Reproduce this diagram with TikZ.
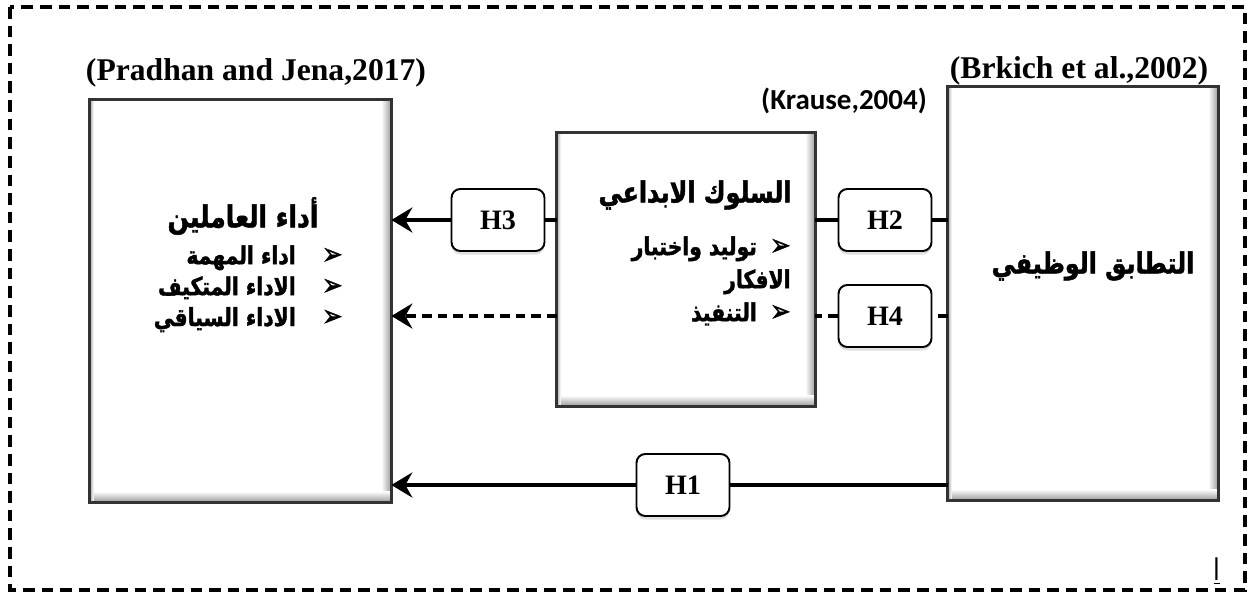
\documentclass[tikz,border=0pt]{standalone}
\usepackage{fontspec}
\setmainfont{Liberation Serif}
\newfontfamily\arabicfont[Script=Arabic,FakeStretch=0.82,BoldFeatures={FakeBold=1.6}]{DejaVu Sans}
\newfontfamily\krausefont{Carlito}
\TeXXeTstate=1
\usetikzlibrary{arrows.meta,calc,shadows}
\def\outerrect{(10,7) rectangle (1245,590)}
\def\barrow#1{\smash{\fontsize{17}{0}\selectfont ➢}\hspace{#1}}
\def\bevel#1{%
  \shade[left color=white,right color=gray!80] ([shift={(-10,1)}]#1.north east) rectangle ([shift={(0,-1)}]#1.south east);
  \shade[top color=white,bottom color=gray!80] ([shift={(1,-11)}]#1.south west) rectangle (#1.south east);
  \shade[left color=gray!70,right color=white] (#1.north west) rectangle ([shift={(4,-1)}]#1.south west);
  \draw[line width=1.4pt,black!80] (#1.north west) rectangle (#1.south east);}

\begin{document}
\begin{tikzpicture}[x=0.02cm,y=-0.02cm,
  bigbox/.style={fill=white,inner sep=0pt},
  hbox/.style={draw,rounded corners=5pt,line width=1.1pt,fill=white,minimum width=1.86cm,minimum height=1.24cm,
    drop shadow={shadow xshift=0pt,shadow yshift=-2pt,opacity=0.25},font=\bfseries\fontsize{16}{18}\selectfont},
  link/.style={line width=2pt},
  arr/.style={link,-{Stealth[length=0.42cm,width=0.5cm,inset=0.14cm]}},
  dashlink/.style={link,dash pattern=on 5.5pt off 3.4pt},
  artitle/.style={font=\arabicfont\bfseries\fontsize{16.5}{18}\selectfont},
  arlist/.style={font=\arabicfont\bfseries\fontsize{14.1}{17.6}\selectfont,align=right,inner sep=0pt},
  ref/.style={font=\bfseries\fontsize{18}{20}\selectfont}]
\useasboundingbox (0,0) rectangle (1250,598);
\draw[line width=1.8pt,dash pattern=on 6.6pt off 4pt] \outerrect;

% boxes
\node[bigbox,minimum width=6.02cm,minimum height=8.04cm] (perf) at (240.5,301) {};
\bevel{perf}
\node[bigbox,minimum width=5.16cm,minimum height=5.46cm] (creat) at (686,269.5) {};
\bevel{creat}
\node[bigbox,minimum width=5.4cm,minimum height=8.26cm] (fit) at (1083,293.5) {};
\bevel{fit}

\node[ref] (pradhan) at (256,73) {(Pradhan and Jena,2017)};
\node[ref] (brkich) at (1079,71) {(Brkich et al.,2002)};
\node[font=\krausefont\bfseries\fontsize{16.5}{18}\selectfont] (krause) at (844,101) {(Krause,2004)};

\node[artitle,font=\arabicfont\bfseries\fontsize{17.3}{18}\selectfont] (perftitle) at (243,216) {\beginR أداء العاملين\endR};
\node[arlist,anchor=north east] (perflist) at (343,245) {\beginR\barrow{15pt}اداء المهمة\endR\\
  \beginR\barrow{15pt}الاداء المتكيف\endR\\ \beginR\barrow{15pt}الاداء السياقي\endR};
\node[artitle] (creattitle) at (695,195) {\beginR السلوك الابداعي\endR};
\node[arlist,anchor=north east,font=\arabicfont\bfseries\fontsize{14.1}{18.8}\selectfont] (creatlist) at (791,236)
  {\beginR\barrow{7.5pt}توليد واختبار\endR\\ \beginR الافكار\endR\\ \beginR\barrow{7.5pt}التنفيذ\endR};
\node[artitle] (fittitle) at (1093,266) {\beginR التطابق الوظيفي\endR};
\node[font=\arabicfont\fontsize{17}{18}\selectfont] (alef) at (1217,571) {\underline{ا}};

% hypotheses
\node[hbox] (h3) at (498,220) {H3};
\node[hbox] (h2) at (885,220) {H2};
\node[hbox] (h4) at (885,316) {H4};
\node[hbox] (h1) at (683,485) {H1};

\draw[link] (creat.west |- h3) -- (h3.east);
\draw[arr] (h3.west) -- (h3.west -| perf.east);
\draw[link] (fit.west |- h2) -- (h2.east);
\draw[link] (h2.west) -- (h2.west -| creat.east);
\draw[dashlink] (fit.west |- h4) -- (h4.east);
\draw[dashlink] (h4.west) -- (h4.west -| creat.east);
\draw[arr,dashlink] (creat.west |- h4) -- (h4 -| perf.east);
\draw[link] (fit.west |- h1) -- (h1.east);
\draw[arr] (h1.west) -- (h1.west -| perf.east);
\end{tikzpicture}
\end{document}
